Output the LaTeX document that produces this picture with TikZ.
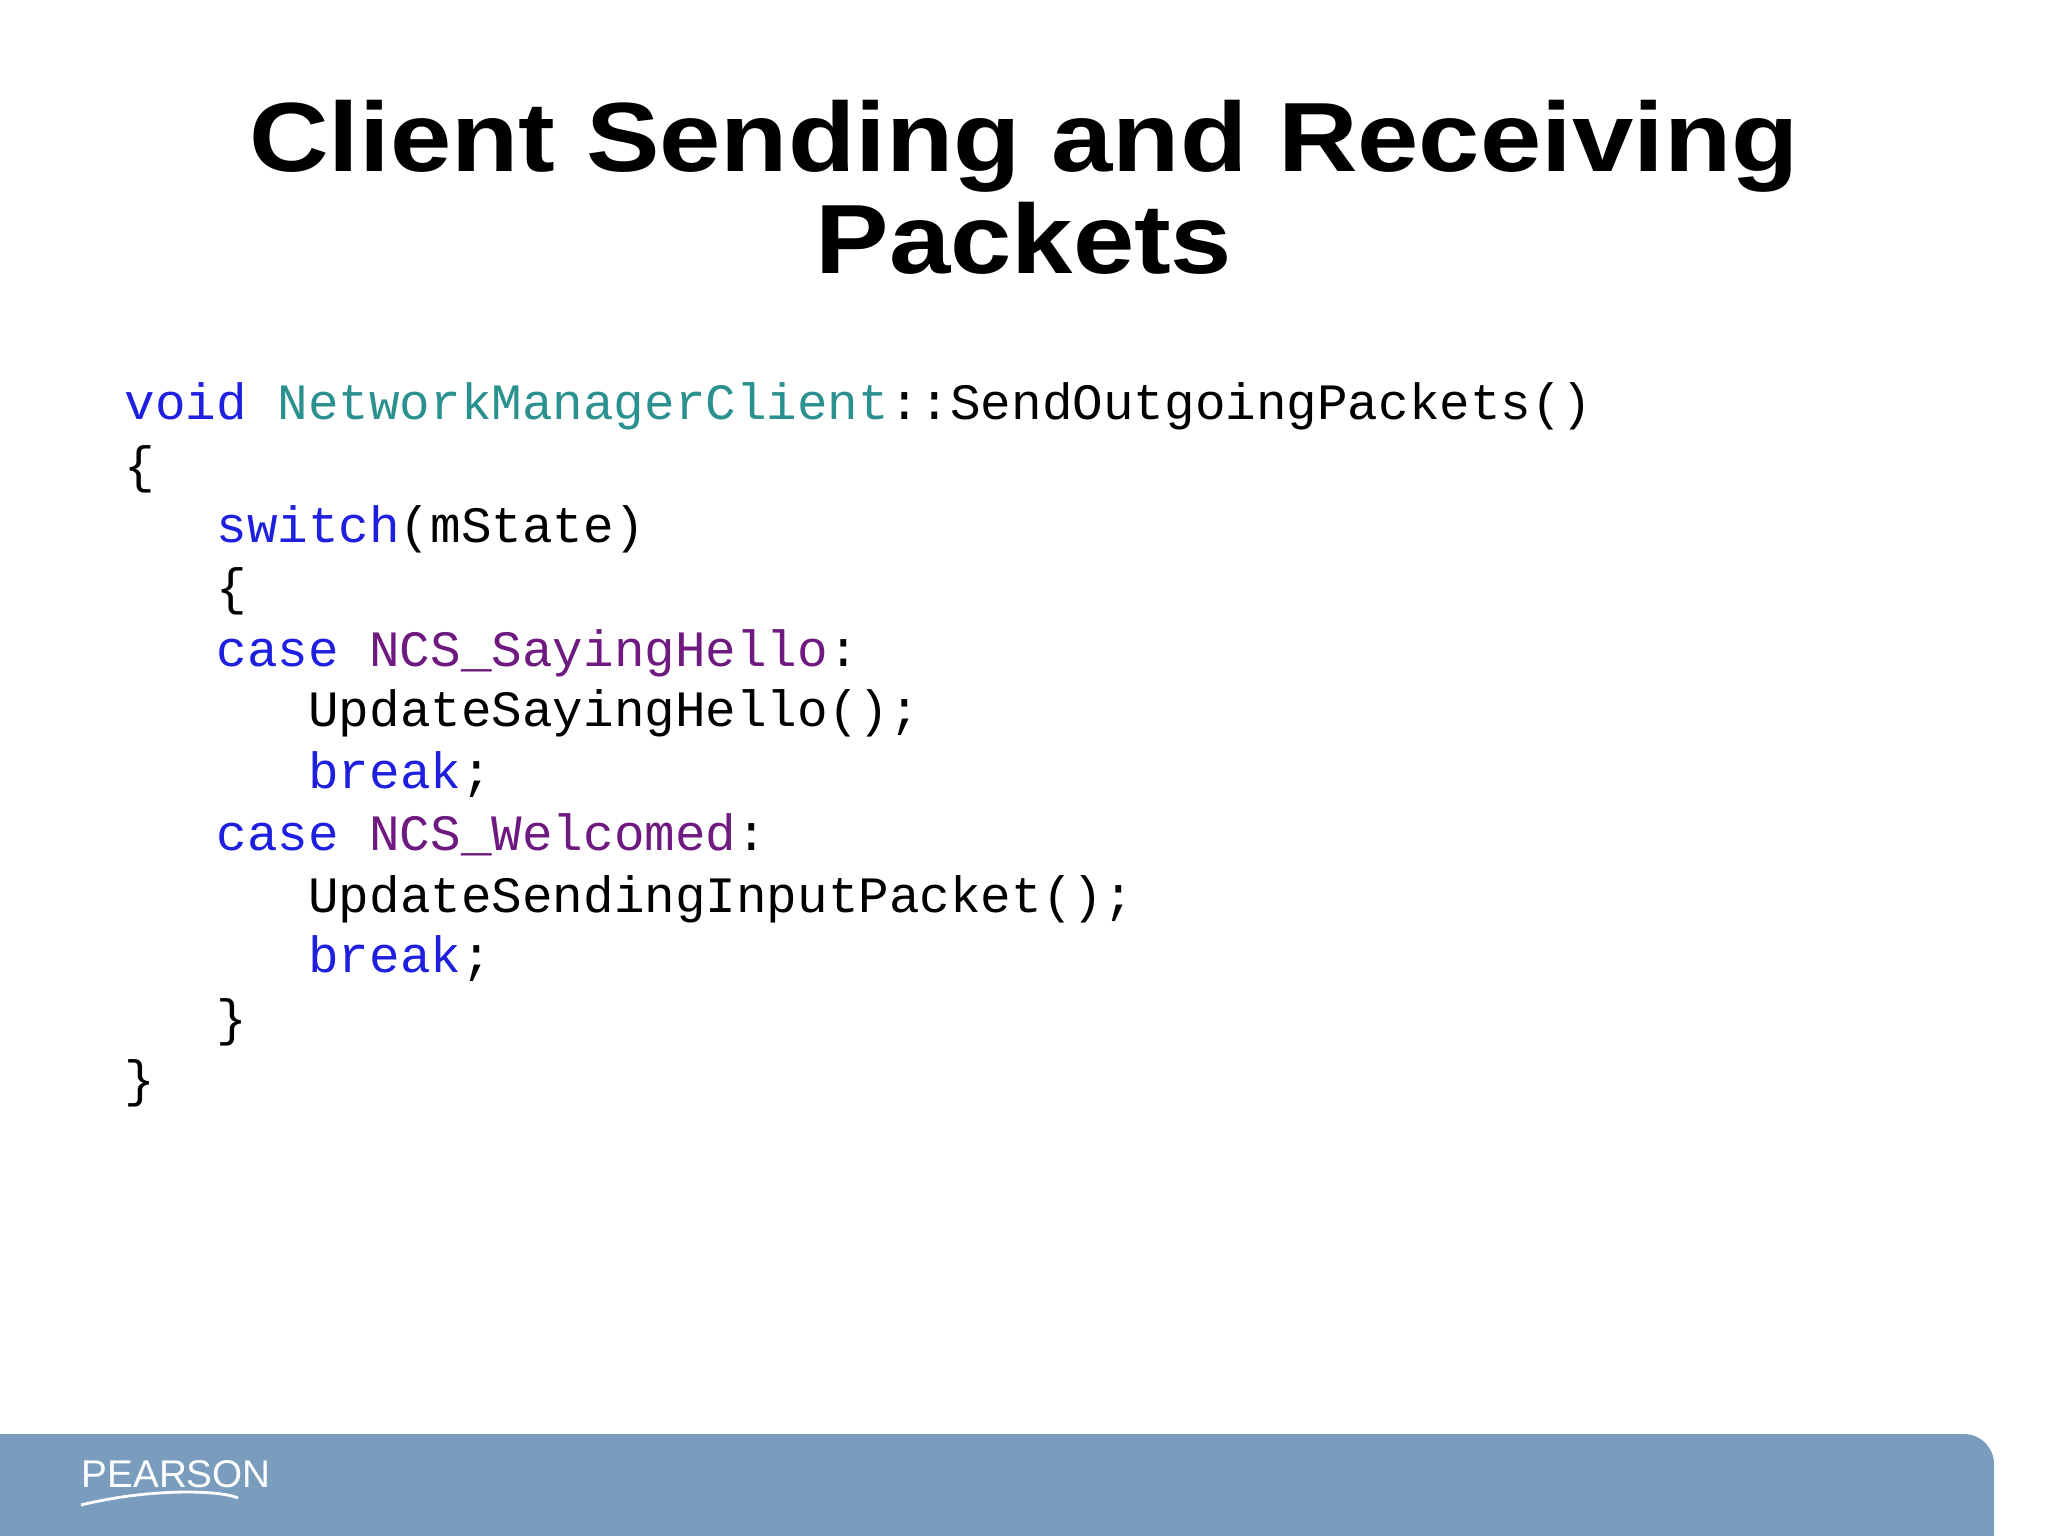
\documentclass[tikz,border=0pt]{standalone}
\usepackage{fontspec}
\setmainfont{Liberation Sans}
\setmonofont{Liberation Mono}
\definecolor{kw}{HTML}{1F1FE0}
\definecolor{cls}{HTML}{2B918F}
\definecolor{enm}{HTML}{6F1A80}
\definecolor{band}{HTML}{7A9CBD}
\begin{document}
\begin{tikzpicture}[x=1cm,y=1cm,
  ttl/.style={font=\fontsize{28}{30}\selectfont\bfseries, anchor=base, inner sep=0},
  code/.style={font=\ttfamily\fontsize{14.5}{16}\selectfont, anchor=base west, inner sep=0}]
\useasboundingbox (0,0) rectangle (20.48,-15.36);
\fill[band] (0,-14.34) -- (19.64,-14.34) arc[start angle=90,end angle=0,radius=0.3] -- (19.94,-15.36) -- (0,-15.36) -- cycle;
\node[ttl] (t1) at (10.24,-1.72) {\scalebox{1.12}[1]{Client Sending and Receiving}};
\node[ttl] (t2) at (10.24,-2.74) {\scalebox{1.12}[1]{Packets}};
\def\lx{1.24}
\def\ind{0.918}
\node[code] (c1) at (\lx,-4.20) {\textcolor{kw}{void} \textcolor{cls}{NetworkManagerClient}::SendOutgoingPackets()};
\node[code] (c2) at (\lx,-4.82) {\{};
\node[code] (c3) at (\lx+\ind,-5.43) {\textcolor{kw}{switch}(mState)};
\node[code] (c4) at (\lx+\ind,-6.05) {\{};
\node[code] (c5) at (\lx+\ind,-6.66) {\textcolor{kw}{case} \textcolor{enm}{NCS\_SayingHello}:};
\node[code] (c6) at (\lx+2*\ind,-7.27) {UpdateSayingHello();};
\node[code] (c7) at (\lx+2*\ind,-7.89) {\textcolor{kw}{break};};
\node[code] (c8) at (\lx+\ind,-8.50) {\textcolor{kw}{case} \textcolor{enm}{NCS\_Welcomed}:};
\node[code] (c9) at (\lx+2*\ind,-9.12) {UpdateSendingInputPacket();};
\node[code] (c10) at (\lx+2*\ind,-9.73) {\textcolor{kw}{break};};
\node[code] (c11) at (\lx+\ind,-10.35) {\}};
\node[code] (c12) at (\lx,-10.96) {\}};
\node[anchor=base west, inner sep=0, text=white, font=\fontsize{11}{12}\selectfont] (logo) at (0.81,-14.87) {PEARSON};
\draw[white, line width=0.8pt] (0.81,-15.05) .. controls (1.5,-14.88) and (2.2,-14.9) .. (2.38,-14.98);
\end{tikzpicture}
\end{document}
